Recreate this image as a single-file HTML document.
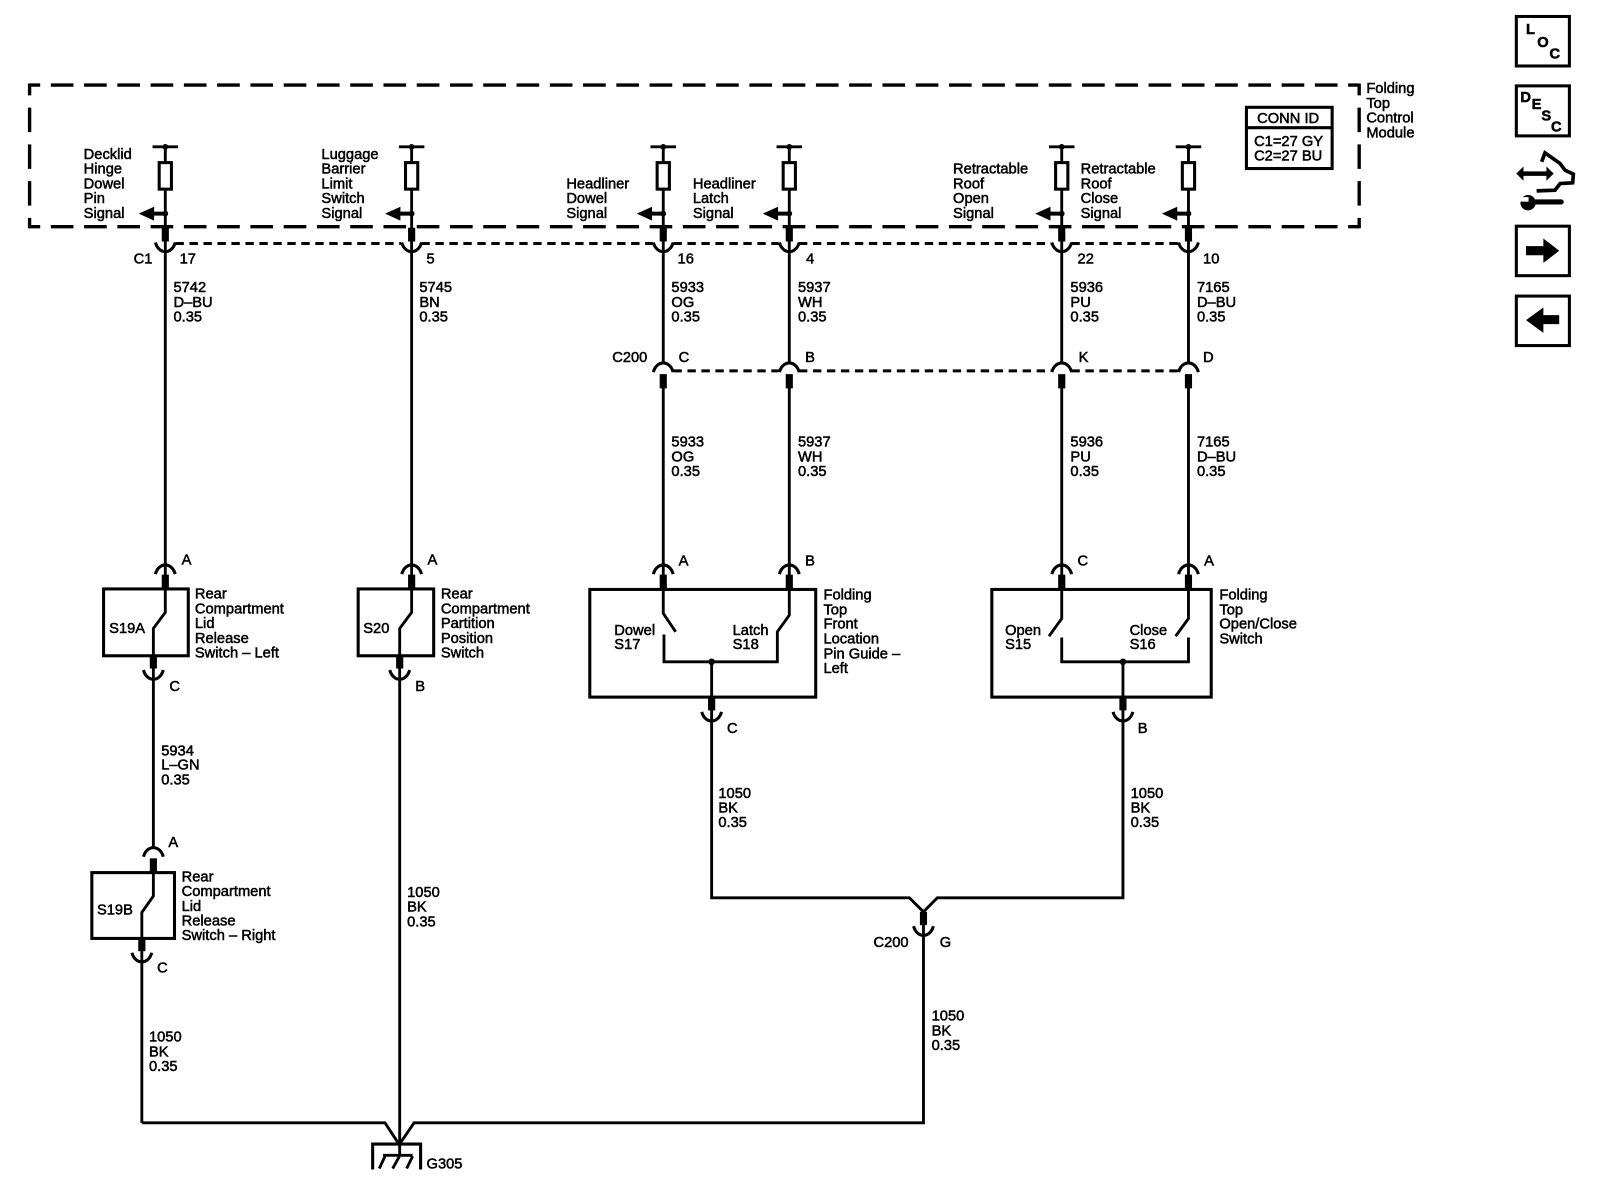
<!DOCTYPE html>
<html><head><meta charset="utf-8"><title>Folding Top Control Module</title>
<style>
html,body{margin:0;padding:0;background:#fff}
svg{display:block}
text{font-family:"Liberation Sans",Arial,sans-serif;font-size:14.4px;fill:#000;stroke:#000;stroke-width:.5px}
.w{fill:none;stroke:#000;stroke-width:2.8;stroke-linejoin:miter}
.a{fill:none;stroke:#000;stroke-width:3}
.b{fill:none;stroke:#000;stroke-width:7}
.r{fill:#fff;stroke:#000;stroke-width:3}
.rn{fill:none;stroke:#000;stroke-width:3}
.d{fill:none;stroke:#000;stroke-width:3.3}
.dd{fill:none;stroke:#000;stroke-width:3;stroke-dasharray:8.2 5.5}
</style></head><body>
<svg xmlns="http://www.w3.org/2000/svg" xmlns:xlink="http://www.w3.org/1999/xlink" width="1600" height="1184" viewBox="0 0 1568 1160">
<defs>
<g id="mod">
<path class="w" d="M-12.5 0H12.5M0 0V80"/><circle cx="0" cy="0" r="2.8"/>
<rect class="r" x="-6" y="15.5" width="12" height="26"/>
<path d="M0 64H-14V67H0Z" stroke="#000" stroke-width="1"/><path d="M-26 65.5L-11 58.7V72.3Z"/><circle cx="0" cy="65.5" r="2.8"/>
</g>
<g id="cup"><path class="a" d="M-9.7 0C-8 6.5 -3.5 9 0 9C3.5 9 8 6.5 9.7 0"/></g>
<g id="cap"><path class="a" d="M-9.7 9C-8 2.5 -3.5 0 0 0C3.5 0 8 2.5 9.7 9"/></g>
</defs>
<rect width="1568" height="1160" fill="#fff"/>

<!-- dashed module box -->
<path class="d" d="M28 83.2H1332" stroke-dasharray="22.2 10.4" stroke-dashoffset="10.8"/>
<path class="d" d="M28 222H1332" stroke-dasharray="22.2 10.4" stroke-dashoffset="10.8"/>
<path class="d" d="M29 81.7V223.5" stroke-dasharray="24 12" stroke-dashoffset="12.4"/>
<path class="d" d="M1332 81.7V223.5" stroke-dasharray="24 12" stroke-dashoffset="12.4"/>

<!-- module pins -->
<use xlink:href="#mod" x="162" y="143.7"/><use xlink:href="#mod" x="403.4" y="143.7"/>
<use xlink:href="#mod" x="650" y="143.7"/><use xlink:href="#mod" x="773.5" y="143.7"/>
<use xlink:href="#mod" x="1040.5" y="143.7"/><use xlink:href="#mod" x="1164.7" y="143.7"/>

<!-- C1 connector -->
<path class="b" d="M162 223V236.5M403.4 223V236.5M650 223V236.5M773.5 223V236.5M1040.5 223V236.5M1164.7 223V236.5"/>
<use xlink:href="#cup" x="162" y="237.5"/><use xlink:href="#cup" x="403.4" y="237.5"/>
<use xlink:href="#cup" x="650" y="237.5"/><use xlink:href="#cup" x="773.5" y="237.5"/>
<use xlink:href="#cup" x="1040.5" y="237.5"/><use xlink:href="#cup" x="1164.7" y="237.5"/>
<path class="dd" d="M172 238.5H393M413 238.5H640M660 238.5H763M783 238.5H1030M1050 238.5H1155"/>

<!-- wires C1 down -->
<path class="w" d="M162 236V563.5M403.4 236V563.5"/>
<path class="w" d="M650 236V355.5M773.5 236V355.5M1040.5 236V355.5M1164.7 236V355.5"/>

<!-- C200 row -->
<use xlink:href="#cap" x="650" y="355.5"/><use xlink:href="#cap" x="773.5" y="355.5"/>
<use xlink:href="#cap" x="1040.5" y="355.5"/><use xlink:href="#cap" x="1164.7" y="355.5"/>
<path class="dd" d="M660 363.3H763M783 363.3H1030M1050 363.3H1155"/>
<path class="b" d="M650 366.5V380.5M773.5 366.5V380.5M1040.5 366.5V380.5M1164.7 366.5V380.5"/>
<path class="w" d="M650 378V564M773.5 378V564M1040.5 378V564M1164.7 378V564"/>

<!-- S19A -->
<use xlink:href="#cap" x="162" y="553.5"/>
<path class="b" d="M162 563V577"/>
<rect class="rn" x="101.5" y="577" width="83" height="65.5"/>
<path class="w" d="M162 576V600L150.3 615.7V643"/>
<path class="b" d="M150.3 642.5V655"/>
<use xlink:href="#cup" x="150.3" y="656.5"/>
<path class="w" d="M150.3 654V831"/>

<!-- S19B -->
<use xlink:href="#cap" x="150.3" y="830.5"/>
<path class="b" d="M150.3 841V855"/>
<rect class="rn" x="90" y="855" width="81" height="64.5"/>
<path class="w" d="M150.3 854V878L139 894V919"/>
<path class="b" d="M139 919V932"/>
<use xlink:href="#cup" x="139" y="933.5"/>
<path class="w" d="M139 931V1100.2"/>

<!-- S20 -->
<use xlink:href="#cap" x="403.4" y="553.5"/>
<path class="b" d="M403.4 563V577"/>
<rect class="rn" x="351" y="577" width="74" height="65.5"/>
<path class="w" d="M403.4 576V600L391.7 615.7V643"/>
<path class="b" d="M391.7 642.5V655"/>
<use xlink:href="#cup" x="391.7" y="656.5"/>
<path class="w" d="M391.7 654V1120"/>

<!-- S17 S18 -->
<use xlink:href="#cap" x="650" y="553.5"/><use xlink:href="#cap" x="773.5" y="553.5"/>
<path class="b" d="M650 563V577M773.5 563V577"/>
<rect class="rn" x="578" y="577.5" width="221.4" height="105.5"/>
<path class="w" d="M650 576V601L662.2 619"/>
<path class="w" d="M650.7 621.7V648.4H761.8V619L773.5 602.7V576"/>
<circle cx="697.4" cy="648.4" r="3.2"/>
<path class="w" d="M697.4 648.4V684"/>
<path class="b" d="M697.4 683V696"/>
<use xlink:href="#cup" x="697.4" y="697.5"/>
<path class="w" d="M697.4 695V879.7H891.2L905 893.4L918.5 879.7H1100.5V695"/>

<!-- S15 S16 -->
<use xlink:href="#cap" x="1040.5" y="553.5"/><use xlink:href="#cap" x="1164.7" y="553.5"/>
<path class="b" d="M1040.5 563V577M1164.7 563V577"/>
<rect class="rn" x="972" y="577.5" width="215" height="105.5"/>
<path class="w" d="M1040.5 576V606L1028 623.3"/>
<path class="w" d="M1164.7 576V606L1152.1 623.3"/>
<path class="w" d="M1040.5 624.6V648.4H1164.7V624.6"/>
<circle cx="1100.5" cy="648.4" r="3.2"/>
<path class="w" d="M1100.5 648.4V684"/>
<path class="b" d="M1100.5 683V696"/>
<use xlink:href="#cup" x="1100.5" y="697.5"/>

<!-- C200 G -->
<path class="b" d="M905 893.4V906.5"/>
<use xlink:href="#cup" x="905" y="907.5"/>
<path class="w" d="M905 905V1100.2H405.8L392 1120.4"/>

<!-- Ground -->
<path class="w" d="M139 1100.2H377.3L390.5 1120.4"/>
<path class="rn" d="M365.2 1146V1121H412.2V1146"/>
<path class="w" d="M391.7 1120V1132M375.4 1132H404.4M377.3 1133L371.7 1145M391.4 1133L384.8 1145M404.4 1133L398.5 1145"/>

<!-- CONN ID -->
<rect class="rn" x="1221.5" y="105" width="84" height="60"/>
<path class="rn" d="M1221.5 125H1305.5"/>

<!-- Text labels -->
<text><tspan x="82" y="155.5">Decklid</tspan><tspan x="82" y="170">Hinge</tspan><tspan x="82" y="184.5">Dowel</tspan><tspan x="82" y="199">Pin</tspan><tspan x="82" y="213.6">Signal</tspan></text>
<text><tspan x="315" y="155.5">Luggage</tspan><tspan x="315" y="170">Barrier</tspan><tspan x="315" y="184.5">Limit</tspan><tspan x="315" y="199">Switch</tspan><tspan x="315" y="213.6">Signal</tspan></text>
<text><tspan x="555" y="184.5">Headliner</tspan><tspan x="555" y="199">Dowel</tspan><tspan x="555" y="213.6">Signal</tspan></text>
<text><tspan x="679" y="184.5">Headliner</tspan><tspan x="679" y="199">Latch</tspan><tspan x="679" y="213.6">Signal</tspan></text>
<text><tspan x="934" y="170">Retractable</tspan><tspan x="934" y="184.5">Roof</tspan><tspan x="934" y="199">Open</tspan><tspan x="934" y="213.6">Signal</tspan></text>
<text><tspan x="1059" y="170">Retractable</tspan><tspan x="1059" y="184.5">Roof</tspan><tspan x="1059" y="199">Close</tspan><tspan x="1059" y="213.6">Signal</tspan></text>
<text><tspan x="1339" y="91">Folding</tspan><tspan x="1339" y="105.5">Top</tspan><tspan x="1339" y="120">Control</tspan><tspan x="1339" y="134.5">Module</tspan></text>
<text x="1232" y="120.2">CONN ID</text>
<text x="1229" y="143">C1=27 GY</text>
<text x="1229" y="157">C2=27 BU</text>

<text x="131" y="258">C1</text><text x="176" y="258">17</text><text x="418" y="258">5</text><text x="664" y="258">16</text><text x="790" y="258">4</text><text x="1056" y="258">22</text><text x="1179" y="258">10</text>

<text><tspan x="170" y="286">5742</tspan><tspan x="170" y="300.5">D–BU</tspan><tspan x="170" y="315">0.35</tspan></text>
<text><tspan x="411" y="286">5745</tspan><tspan x="411" y="300.5">BN</tspan><tspan x="411" y="315">0.35</tspan></text>
<text><tspan x="658" y="286">5933</tspan><tspan x="658" y="300.5">OG</tspan><tspan x="658" y="315">0.35</tspan></text>
<text><tspan x="782" y="286">5937</tspan><tspan x="782" y="300.5">WH</tspan><tspan x="782" y="315">0.35</tspan></text>
<text><tspan x="1049" y="286">5936</tspan><tspan x="1049" y="300.5">PU</tspan><tspan x="1049" y="315">0.35</tspan></text>
<text><tspan x="1173" y="286">7165</tspan><tspan x="1173" y="300.5">D–BU</tspan><tspan x="1173" y="315">0.35</tspan></text>

<text x="600" y="354.5">C200</text><text x="665" y="354.5">C</text><text x="789" y="354.5">B</text><text x="1057" y="354.5">K</text><text x="1179" y="354.5">D</text>

<text><tspan x="658" y="437.5">5933</tspan><tspan x="658" y="452">OG</tspan><tspan x="658" y="466.5">0.35</tspan></text>
<text><tspan x="782" y="437.5">5937</tspan><tspan x="782" y="452">WH</tspan><tspan x="782" y="466.5">0.35</tspan></text>
<text><tspan x="1049" y="437.5">5936</tspan><tspan x="1049" y="452">PU</tspan><tspan x="1049" y="466.5">0.35</tspan></text>
<text><tspan x="1173" y="437.5">7165</tspan><tspan x="1173" y="452">D–BU</tspan><tspan x="1173" y="466.5">0.35</tspan></text>

<text x="178" y="553">A</text><text x="419" y="553">A</text><text x="665" y="554">A</text><text x="789" y="554">B</text><text x="1056" y="554">C</text><text x="1180" y="554">A</text>

<text><tspan x="191" y="586.5">Rear</tspan><tspan x="191" y="601">Compartment</tspan><tspan x="191" y="615.5">Lid</tspan><tspan x="191" y="630">Release</tspan><tspan x="191" y="644">Switch – Left</tspan></text>
<text><tspan x="432" y="586.5">Rear</tspan><tspan x="432" y="601">Compartment</tspan><tspan x="432" y="615.5">Partition</tspan><tspan x="432" y="630">Position</tspan><tspan x="432" y="644">Switch</tspan></text>
<text x="107" y="620">S19A</text><text x="356" y="620">S20</text>
<text x="166" y="677">C</text><text x="407" y="677">B</text>

<text><tspan x="602" y="622">Dowel</tspan><tspan x="602" y="636">S17</tspan></text>
<text><tspan x="718" y="622">Latch</tspan><tspan x="718" y="636">S18</tspan></text>
<text><tspan x="807" y="587.5">Folding</tspan><tspan x="807" y="602">Top</tspan><tspan x="807" y="616">Front</tspan><tspan x="807" y="630.5">Location</tspan><tspan x="807" y="645">Pin Guide –</tspan><tspan x="807" y="659.5">Left</tspan></text>
<text><tspan x="985" y="622">Open</tspan><tspan x="985" y="636">S15</tspan></text>
<text><tspan x="1107" y="622">Close</tspan><tspan x="1107" y="636">S16</tspan></text>
<text><tspan x="1195" y="587.5">Folding</tspan><tspan x="1195" y="602">Top</tspan><tspan x="1195" y="616">Open/Close</tspan><tspan x="1195" y="630.5">Switch</tspan></text>
<text x="712.5" y="718">C</text><text x="1115" y="718">B</text>

<text><tspan x="158" y="740">5934</tspan><tspan x="158" y="754">L–GN</tspan><tspan x="158" y="768.5">0.35</tspan></text>
<text x="165" y="830">A</text>
<text><tspan x="178" y="863.5">Rear</tspan><tspan x="178" y="878">Compartment</tspan><tspan x="178" y="892.5">Lid</tspan><tspan x="178" y="907">Release</tspan><tspan x="178" y="921">Switch – Right</tspan></text>
<text x="95" y="896">S19B</text>
<text x="154" y="953">C</text>

<text><tspan x="146" y="1020.5">1050</tspan><tspan x="146" y="1035">BK</tspan><tspan x="146" y="1049.5">0.35</tspan></text>
<text><tspan x="399" y="879">1050</tspan><tspan x="399" y="893">BK</tspan><tspan x="399" y="908">0.35</tspan></text>
<text><tspan x="704" y="782">1050</tspan><tspan x="704" y="796">BK</tspan><tspan x="704" y="810.5">0.35</tspan></text>
<text><tspan x="1108" y="782">1050</tspan><tspan x="1108" y="796">BK</tspan><tspan x="1108" y="810.5">0.35</tspan></text>
<text><tspan x="913" y="1000">1050</tspan><tspan x="913" y="1014.5">BK</tspan><tspan x="913" y="1029">0.35</tspan></text>
<text x="856" y="928">C200</text><text x="921" y="928">G</text>
<text x="418" y="1145">G305</text>

<!-- Right icons -->
<rect x="1486" y="16" width="52" height="48.5" fill="none" stroke="#000" stroke-width="3"/>
<text x="1495.5" y="33" style="font-weight:bold">L</text><text x="1506.5" y="46" style="font-weight:bold">O</text><text x="1518.5" y="57" style="font-weight:bold">C</text>
<rect x="1486" y="84" width="52" height="49" fill="none" stroke="#000" stroke-width="3"/>
<text x="1490" y="100" style="font-weight:bold">D</text><text x="1501" y="106.5" style="font-weight:bold">E</text><text x="1510.5" y="118" style="font-weight:bold">S</text><text x="1520" y="128.5" style="font-weight:bold">C</text>

<path d="M1490 170H1518" stroke="#000" stroke-width="4.5" fill="none"/>
<path d="M1486 170L1493 163V177ZM1522.6 170L1515.5 163V177Z"/>
<path d="M1510.8 158.4L1514.1 149.6L1528.8 160L1533.7 166.6L1541.9 170.5L1541.2 179L1529 179.7L1523.9 186.2L1505.9 186.9" fill="none" stroke="#000" stroke-width="3.6"/>
<path d="M1499 197.7H1530" stroke="#000" stroke-width="5" stroke-linecap="round" fill="none"/>
<circle cx="1497.5" cy="198.5" r="7.5"/>
<path d="M1488 193H1498V197.5H1488Z" fill="#fff"/>

<rect x="1486" y="221.5" width="52" height="48.5" fill="none" stroke="#000" stroke-width="3"/>
<path d="M1495.5 241H1512.5V233.6L1528.1 245.6L1512.5 257.4V250H1495.5Z"/>
<rect x="1486" y="290" width="52" height="48.5" fill="none" stroke="#000" stroke-width="3"/>
<path d="M1528 308.7H1512.5V301.2L1495.5 313.6L1512.5 326V317.5H1528Z"/>
</svg>
</body></html>
